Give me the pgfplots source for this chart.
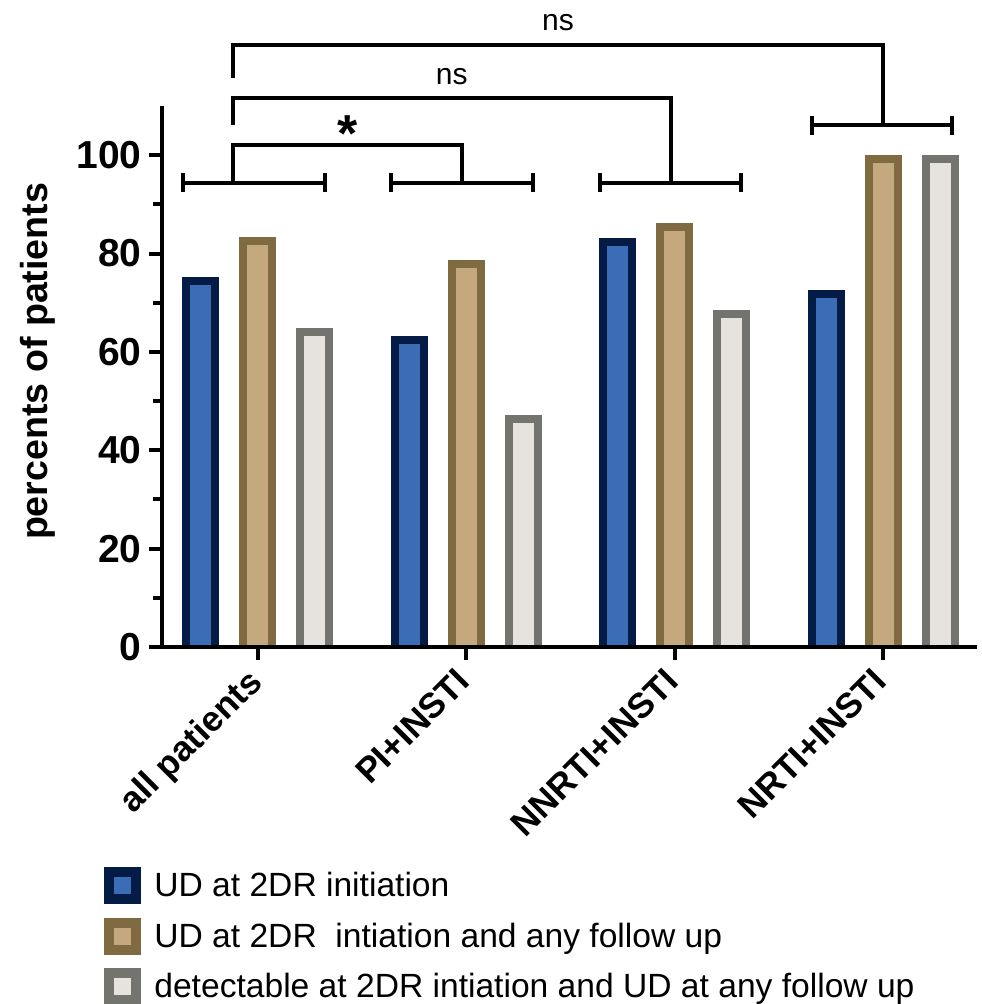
\documentclass[border=0pt]{standalone}
\usepackage{fontspec}
\setmainfont{Liberation Sans}
\usepackage{pgfplots}
\pgfplotsset{compat=1.18}
\definecolor{bAf}{HTML}{3A6DB5}
\definecolor{bAd}{HTML}{031B45}
\definecolor{bBf}{HTML}{C4A97F}
\definecolor{bBd}{HTML}{806A42}
\definecolor{bCf}{HTML}{E6E2DD}
\definecolor{bCd}{HTML}{74746E}
\begin{document}
\begin{tikzpicture}
\begin{axis}[name=ax,
  scale only axis, width=407.5pt, height=270.5pt,
  xmin=-0.46, xmax=3.45, ymin=0, ymax=110,
  axis x line=bottom, axis y line=left,
  axis line style={-, line width=2pt, black},
  axis on top,
  ybar, bar width=14.5pt,
  xtick={0,1,2,3},
  xticklabels={all patients, PI+INSTI, NNRTI+INSTI, NRTI+INSTI},
  ytick={0,20,40,60,80,100}, minor ytick={10,30,50,70,90},
  tick style={line width=2pt, black},
  major tick length=6.5pt, minor tick length=4.5pt,
  tick align=outside,
  /pgf/number format/assume math mode=true,
  yticklabel style={font=\bfseries\fontsize{19.5}{20}\selectfont, inner sep=0pt, xshift=-3.5pt},
  xticklabel style={font=\bfseries\fontsize{17.6}{20}\selectfont, xshift=-6pt, yshift=-3pt, rotate=45, anchor=north east, inner sep=0pt},
  ylabel={percents of patients},
  ylabel style={font=\bfseries\fontsize{18.8}{20}\selectfont, at={(axis description cs:-0.152,0.528)}, anchor=center},
  legend style={at={(rel axis cs:-0.0712,-0.4067)}, anchor=north west, draw=none, fill=none,
    inner sep=0pt, row sep=6.75pt, column sep=6.5pt,
    font=\fontsize{16.8}{18}\selectfont,
    nodes={inner sep=0pt}},
  legend cell align=left,
  legend image code/.code={\draw[#1, line width=5pt, yshift=2pt] (2.5pt,-6.75pt) rectangle (16pt,6.75pt);},
]
\addplot[fill=bAf, draw=bAd, line width=4pt, bar shift=-28.5pt, yshift=-2pt] coordinates {(0,75.3) (1,63.3) (2,83.1) (3,72.6)};
\addplot[fill=bBf, draw=bBd, line width=4pt, bar shift=0pt, yshift=-2pt] coordinates {(0,83.3) (1,78.7) (2,86.2) (3,100)};
\addplot[fill=bCf, draw=bCd, line width=4pt, bar shift=28.5pt, yshift=-2pt] coordinates {(0,64.8) (1,47.2) (2,68.5) (3,100)};
\legend{UD at 2DR initiation, UD at 2DR\ \ intiation and any follow up, detectable at 2DR intiation and UD at any follow up}
% bracket coordinates
\coordinate (L1) at (axis cs:-0.36,94.4); \coordinate (R1) at (axis cs:0.32,94.4);
\coordinate (L2) at (axis cs:0.64,94.4);  \coordinate (R2) at (axis cs:1.32,94.4);
\coordinate (L3) at (axis cs:1.64,94.4);  \coordinate (R3) at (axis cs:2.32,94.4);
\coordinate (L4) at (axis cs:2.66,106.1); \coordinate (R4) at (axis cs:3.33,106.1);
\coordinate (A1) at (axis cs:-0.12,94.4); \coordinate (A2) at (axis cs:-0.12,102);
\coordinate (A3) at (axis cs:0.98,102);   \coordinate (A4) at (axis cs:0.98,94.4);
\coordinate (B1) at (axis cs:-0.12,106.1); \coordinate (B2) at (axis cs:-0.12,111.6);
\coordinate (B3) at (axis cs:1.98,111.6);  \coordinate (B4) at (axis cs:1.98,94.4);
\coordinate (C1) at (axis cs:-0.12,115.7); \coordinate (C2) at (axis cs:-0.12,122.4);
\coordinate (C3) at (axis cs:3.0,122.4);   \coordinate (C4) at (axis cs:3.0,106.1);
\coordinate (S) at (axis cs:0.43,104.3);
\coordinate (N1) at (axis cs:0.93,116.0);
\coordinate (N2) at (axis cs:1.44,127.0);
\end{axis}
\begin{scope}[line width=2pt, line cap=butt]
\foreach \i in {1,2,3,4}{
  \draw (L\i) -- (R\i);
  \draw (L\i) ++(0,-4.8pt) -- ++(0,9.6pt);
  \draw (R\i) ++(0,-4.8pt) -- ++(0,9.6pt);
}
\draw[line join=miter] (A1) -- (A2) -- (A3) -- (A4);
\draw[line join=miter] (B1) -- (B2) -- (B3) -- (B4);
\draw[line join=miter] (C1) -- (C2) -- (C3) -- (C4);
\end{scope}
\node[font=\bfseries\fontsize{26}{28}\selectfont] at (S) {*};
\node[font=\fontsize{15}{17}\selectfont] at (N1) {ns};
\node[font=\fontsize{15}{17}\selectfont] at (N2) {ns};
\pgfresetboundingbox
\path[use as bounding box] (ax.south west) ++(-81pt,-178.5pt) rectangle ++(490.5pt,502pt);
\end{tikzpicture}
\end{document}
